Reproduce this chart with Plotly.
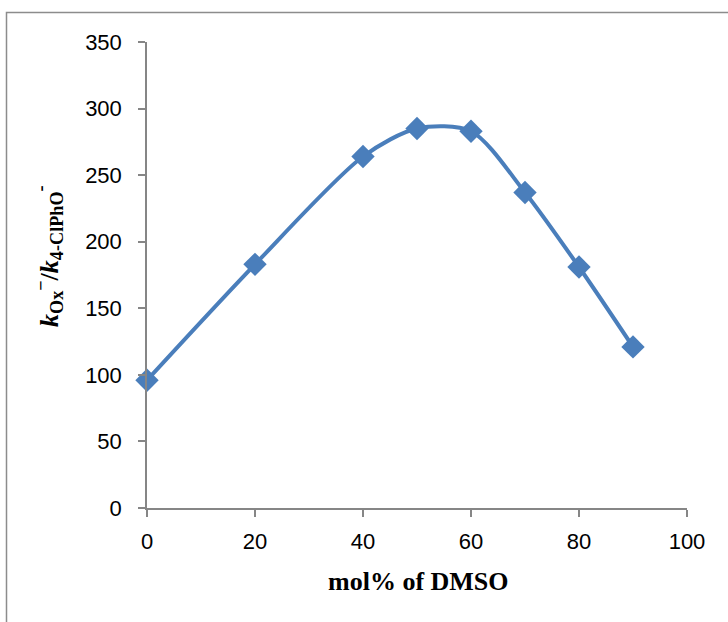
import plotly.graph_objects as go

mol_pct = [0, 20, 40, 50, 60, 70, 80, 90]
ratio = [96, 183, 264, 285, 283, 237, 181, 121]
x_ticks = [0, 20, 40, 60, 80, 100]
y_ticks = [0, 50, 100, 150, 200, 250, 300, 350]

W, H = 728, 622
L, R, T, B = 147, 41, 42, 114
pw, ph = W - L - R, H - T - B


def px2paper_x(p):
    return (p - L) / pw


def px2paper_y(p):
    return 1 - (p - T) / ph


fig = go.Figure()
fig.add_trace(go.Scatter(
    x=mol_pct, y=ratio, mode="lines+markers",
    line=dict(color="#4A7EBB", width=4, shape="spline", smoothing=0.8),
    marker=dict(symbol="diamond", size=18, color="#4A7EBB"),
    showlegend=False, cliponaxis=False,
))

fig.add_shape(type="rect", xref="paper", yref="paper",
              x0=px2paper_x(6.5), x1=px2paper_x(740), y0=px2paper_y(640), y1=px2paper_y(12.5),
              line=dict(color="#8c8c8c", width=1.5), fillcolor="rgba(0,0,0,0)", layer="below")

serif = "Liberation Serif, Times New Roman, serif"
fig.add_annotation(text="<b>mol% of DMSO</b>", xref="paper", yref="paper",
                   x=px2paper_x(418), y=px2paper_y(581), xanchor="center", yanchor="middle",
                   showarrow=False, font=dict(family=serif, size=26, color="black"))
fig.add_annotation(text="<b><i>k</i><sub>Ox</sub><sup>−</sup>/<i>k</i><sub>4-ClPhO</sub><sup>-</sup></b>",
                   xref="paper", yref="paper", textangle=-90,
                   x=px2paper_x(49), y=px2paper_y(256), xanchor="center", yanchor="middle",
                   showarrow=False, font=dict(family=serif, size=26, color="black"))

axis_common = dict(showgrid=False, zeroline=False, showline=True, linecolor="#868686",
                   linewidth=1.5, ticks="outside", ticklen=7, tickwidth=1.5,
                   tickcolor="#868686", tickfont=dict(size=22))

fig.update_layout(
    width=W, height=H,
    margin=dict(l=L, r=R, t=T, b=B, autoexpand=False),
    paper_bgcolor="white", plot_bgcolor="white",
    font=dict(family="Liberation Sans, Arial, sans-serif", size=22, color="black"),
    xaxis=dict(range=[0, 100], tickvals=x_ticks, ticklabelstandoff=6, **axis_common),
    yaxis=dict(range=[0, 350], tickvals=y_ticks, ticklabelstandoff=12, **axis_common),
)

fig.write_html("out.html", config={"displayModeBar": False},
               post_script="document.body.style.margin='0px';")
